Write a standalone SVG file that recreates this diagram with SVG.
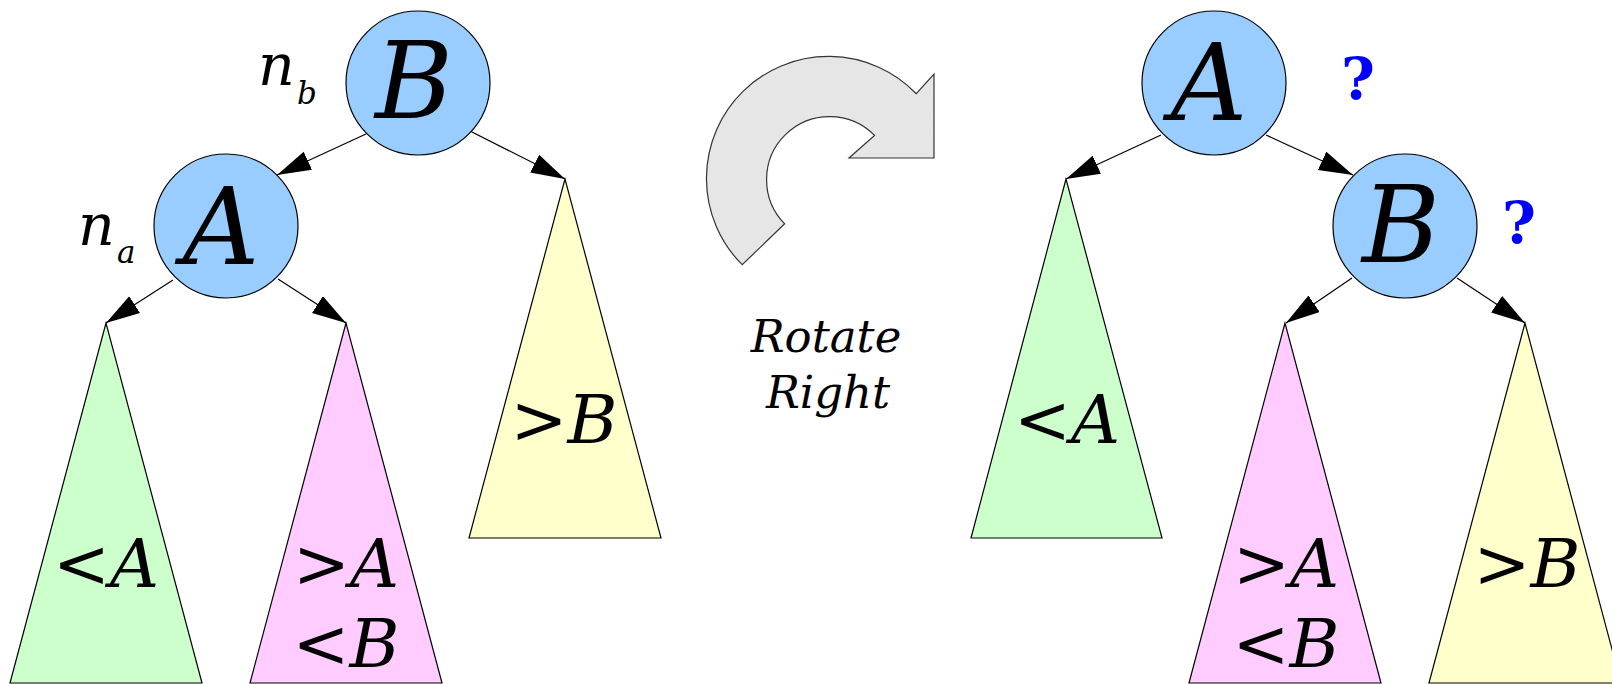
<svg xmlns="http://www.w3.org/2000/svg" width="1612" height="684" viewBox="0 0 1612 684">
<style>
.node{fill:#99ccff;stroke:#000;stroke-width:1.2}
.big{font-family:"DejaVu Serif",serif;font-style:italic;font-size:106px;fill:#000;text-anchor:middle}
.sub{font-family:"DejaVu Serif",serif;font-style:italic;font-size:68px;fill:#000;text-anchor:middle}
.lbl{font-family:"DejaVu Serif",serif;font-style:italic;fill:#000}
.q{font-family:"DejaVu Serif",serif;font-weight:bold;font-size:58px;fill:#0000ff;text-anchor:middle}
.tri{stroke:#000;stroke-width:1.2}
.g{fill:#ccffcc}.p{fill:#ffccff}.y{fill:#ffffcc}
.edge{stroke:#000;stroke-width:1.2;fill:none;marker-end:url(#ah)}
</style>
<defs>
<marker id="ah" markerUnits="userSpaceOnUse" markerWidth="36" markerHeight="22" refX="34" refY="10" orient="auto">
<path d="M0,0 L34,10 L0,20 Z" fill="#000"/>
</marker>
</defs>
<rect width="1612" height="684" fill="#fff"/>

<g id="connectors">
<line class="edge" x1="366" y1="134" x2="277" y2="175"/>
<line class="edge" x1="470" y1="131" x2="565" y2="179"/>
<line class="edge" x1="173" y1="280" x2="106" y2="323"/>
<line class="edge" x1="278" y1="279" x2="346" y2="323"/>
<line class="edge" x1="1161" y1="135" x2="1066" y2="179"/>
<line class="edge" x1="1266" y1="135" x2="1353" y2="175"/>
<line class="edge" x1="1352" y1="278" x2="1286" y2="323"/>
<line class="edge" x1="1457" y1="278" x2="1525" y2="323"/>
</g>

<g id="left-tree">
<g id="L-nodeB">
<circle class="node" cx="418" cy="83" r="72"/>
<text class="big" x="414" y="118">B</text>
<text class="lbl" x="258" y="85" font-size="57">n</text>
<text class="lbl" x="297" y="104" font-size="31">b</text>
</g>
<g id="L-nodeA">
<circle class="node" cx="226" cy="226" r="72"/>
<text class="big" x="221" y="264">A</text>
<text class="lbl" x="78" y="245" font-size="57">n</text>
<text class="lbl" x="117" y="263" font-size="31">a</text>
</g>
<g id="L-lessA">
<polygon class="tri g" points="106,323 10,683 202,683"/>
<text class="sub" x="106" y="587">&lt;A</text>
</g>
<g id="L-between">
<polygon class="tri p" points="346,323 250,683 442,683"/>
<text class="sub" x="346" y="587">&gt;A</text>
<text class="sub" x="346" y="667">&lt;B</text>
</g>
<g id="L-greaterB">
<polygon class="tri y" points="565,179 469,538 661,538"/>
<text class="sub" x="564" y="443">&gt;B</text>
</g>
</g>

<g id="rotate">
<path d="M742.2,264.7 A122,122 0 1 1 916.27,93.73 L934,74 L934,158 L849,158 L874.55,135.45 A63,63 0 1 0 784.7,223.8 Z" fill="#e6e6e6" stroke="#333" stroke-width="1.2"/>
<text class="lbl" x="826" y="352" font-size="45" text-anchor="middle">Rotate</text>
<text class="lbl" x="828" y="408" font-size="45" text-anchor="middle">Right</text>
</g>

<g id="right-tree">
<g id="R-nodeA">
<circle class="node" cx="1214" cy="83" r="72"/>
<text class="big" x="1209" y="120">A</text>
<text class="q" x="1358" y="99">?</text>
</g>
<g id="R-nodeB">
<circle class="node" cx="1405" cy="226" r="72"/>
<text class="big" x="1401" y="262">B</text>
<text class="q" x="1519" y="243">?</text>
</g>
<g id="R-lessA">
<polygon class="tri g" points="1066,179 971,538 1162,538"/>
<text class="sub" x="1067" y="443">&lt;A</text>
</g>
<g id="R-between">
<polygon class="tri p" points="1285,323 1189,683 1381,683"/>
<text class="sub" x="1286" y="587">&gt;A</text>
<text class="sub" x="1286" y="667">&lt;B</text>
</g>
<g id="R-greaterB">
<polygon class="tri y" points="1525,323 1429,683 1621,683"/>
<text class="sub" x="1527" y="587">&gt;B</text>
</g>
</g>
</svg>
